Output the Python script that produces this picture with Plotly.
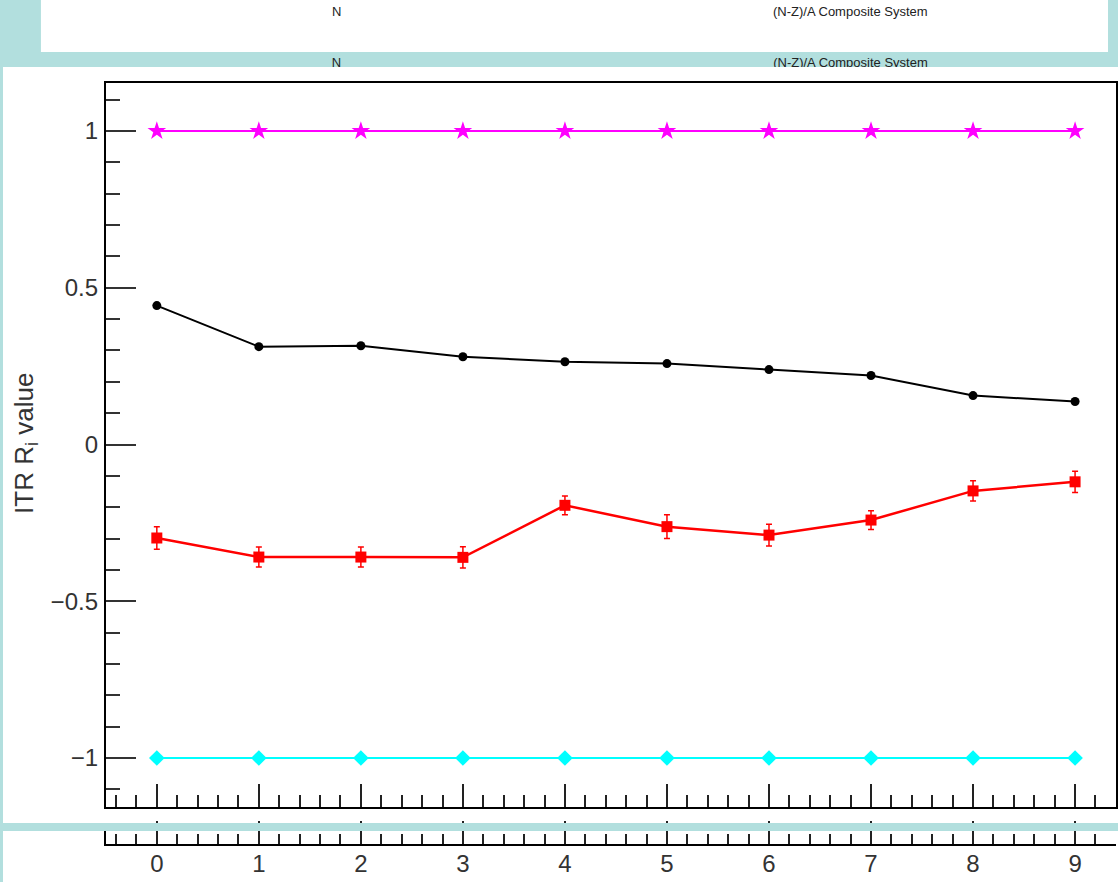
import plotly.graph_objects as go

# ---------------- data ----------------
bins = [0, 1, 2, 3, 4, 5, 6, 7, 8, 9]
upper_ref = [1, 1, 1, 1, 1, 1, 1, 1, 1, 1]
lower_ref = [-1, -1, -1, -1, -1, -1, -1, -1, -1, -1]
black_vals = [0.443, 0.312, 0.315, 0.280, 0.264, 0.258, 0.239, 0.220, 0.156, 0.137]
red_vals = [-0.298, -0.359, -0.359, -0.360, -0.194, -0.262, -0.289, -0.241, -0.148, -0.119]
red_errs = [0.036, 0.032, 0.032, 0.034, 0.030, 0.038, 0.035, 0.030, 0.032, 0.034]
y_title = "ITR R<sub>i</sub> value"
x_title = "Mass Bin"
header_left = "N"
header_right = "(N-Z)/A Composite System"

W, H = 1118, 882
TEAL = "#b2dfde"
FONT = "Liberation Sans, Arial, Helvetica, sans-serif"
HFONT = "Liberation Sans Narrow, Liberation Sans, Arial, sans-serif"


def fx(px):
    return px / W


def fy(py):
    return 1 - py / H


# pixel geometry of the frame
X0_PX, X_UNIT = 105.9, 102.22
Y0_PX, Y_UNIT = 444.5, 313.5
x_range = [-0.5, -0.5 + (W - X0_PX) / X_UNIT]
y_range = [-(807 - Y0_PX) / Y_UNIT, (Y0_PX - 83) / Y_UNIT]

fig = go.Figure()

fig.add_trace(go.Scatter(
    x=bins, y=upper_ref, mode="lines+markers",
    line=dict(color="#ff00ff", width=2),
    marker=dict(symbol="star", size=14, color="#ff00ff"),
    showlegend=False))
fig.add_trace(go.Scatter(
    x=bins, y=lower_ref, mode="lines+markers",
    line=dict(color="#00ffff", width=2),
    marker=dict(symbol="diamond", size=12, color="#00ffff"),
    showlegend=False))
fig.add_trace(go.Scatter(
    x=bins, y=black_vals, mode="lines+markers",
    line=dict(color="black", width=2),
    marker=dict(symbol="circle", size=9, color="black"),
    showlegend=False))
fig.add_trace(go.Scatter(
    x=bins, y=red_vals, mode="lines+markers",
    line=dict(color="#ff0000", width=2.5),
    marker=dict(symbol="square", size=11, color="#ff0000"),
    error_y=dict(type="data", array=red_errs, color="#ff0000", thickness=1.5, width=3),
    showlegend=False))

# lower (shifted) axis copy with tick labels
fig.add_trace(go.Scatter(x=[None], y=[None], xaxis="x2", yaxis="y2", showlegend=False))

# clipped header copy in the teal strip
fig.add_trace(go.Scatter(
    x=[337, 852], y=[63.5, 63.5], mode="text", text=[header_left, header_right],
    textfont=dict(family=HFONT, size=13, color="#222"),
    xaxis="x3", yaxis="y3", showlegend=False, cliponaxis=True, hoverinfo="skip"))

tickfont = dict(family=FONT, size=24, color="#333")

fig.update_layout(
    width=W, height=H,
    margin=dict(l=0, r=0, t=0, b=0),
    paper_bgcolor=TEAL,
    plot_bgcolor="rgba(0,0,0,0)",
    xaxis=dict(
        domain=[fx(106), 1], range=x_range, anchor="y",
        showgrid=False, zeroline=False, showline=True, linecolor="black",
        linewidth=2, mirror=True, ticks="inside", ticklen=23, tickwidth=1.5,
        tickcolor="#222", dtick=1, tick0=0, showticklabels=False,
        minor=dict(dtick=0.2, tick0=0, ticks="inside", ticklen=12,
                   tickwidth=1.5, tickcolor="#222", showgrid=False)),
    yaxis=dict(
        domain=[fy(807), fy(83)], range=y_range, anchor="x",
        showgrid=False, zeroline=False, showline=True, linecolor="black",
        linewidth=2, mirror=True, ticks="inside", ticklen=30, tickwidth=1.5,
        tickcolor="#333", dtick=0.5, tick0=0, tickfont=tickfont,
        ticklabelstandoff=1,
        minor=dict(dtick=0.1, tick0=0, ticks="inside", ticklen=14,
                   tickwidth=1.5, tickcolor="#333", showgrid=False)),
    xaxis2=dict(
        domain=[fx(106), 1], range=x_range, anchor="y2",
        showgrid=False, zeroline=False, showline=True, linecolor="black",
        linewidth=2, ticks="inside", ticklen=23, tickwidth=1.5,
        tickcolor="#222", dtick=1, tick0=0, tickfont=tickfont,
        ticklabelstandoff=-3,
        minor=dict(dtick=0.2, tick0=0, ticks="inside", ticklen=10,
                   tickwidth=1.5, tickcolor="#222", showgrid=False)),
    yaxis2=dict(
        domain=[fy(844), fy(823)], range=[0, 1], anchor="x2",
        showgrid=False, zeroline=False, showline=True, linecolor="black",
        linewidth=2, ticks="", showticklabels=False),
    xaxis3=dict(domain=[0, 1], range=[0, W], anchor="y3", visible=False),
    yaxis3=dict(domain=[fy(67), fy(52)], range=[67, 52], anchor="x3", visible=False),
    shapes=[
        dict(type="rect", xref="paper", yref="paper", x0=fx(41), x1=fx(1110),
             y0=fy(52), y1=fy(-2), fillcolor="white", line=dict(width=0), layer="below"),
        dict(type="rect", xref="paper", yref="paper", x0=fx(3), x1=fx(W + 2),
             y0=fy(823), y1=fy(67), fillcolor="white", line=dict(width=0), layer="below"),
        dict(type="rect", xref="paper", yref="paper", x0=fx(3), x1=fx(W + 2),
             y0=fy(H + 2), y1=fy(831), fillcolor="white", line=dict(width=0), layer="below"),
        dict(type="rect", xref="paper", yref="paper", x0=fx(-2), x1=fx(W + 2),
             y0=fy(831), y1=fy(823), fillcolor=TEAL, line=dict(width=0), layer="above"),
    ],
    annotations=[
        dict(text=header_left, xref="paper", yref="paper", x=fx(337), y=fy(11),
             xanchor="center", yanchor="middle",
             showarrow=False, font=dict(family=HFONT, size=13, color="#222")),
        dict(text=header_right, xref="paper", yref="paper", x=fx(852), y=fy(11),
             xanchor="center", yanchor="middle",
             showarrow=False, font=dict(family=HFONT, size=13, color="#222")),
        dict(text=y_title, xref="paper", yref="paper", x=fx(25), y=fy(443),
             xanchor="center", yanchor="middle",
             textangle=-90, showarrow=False, font=dict(family=FONT, size=26, color="#333")),
        dict(text=x_title, xref="paper", yref="paper", x=fx(617), y=fy(876),
             xanchor="center", yanchor="top",
             showarrow=False, font=dict(family=FONT, size=24, color="#333")),
    ],
)

fig.write_html("out.html")
